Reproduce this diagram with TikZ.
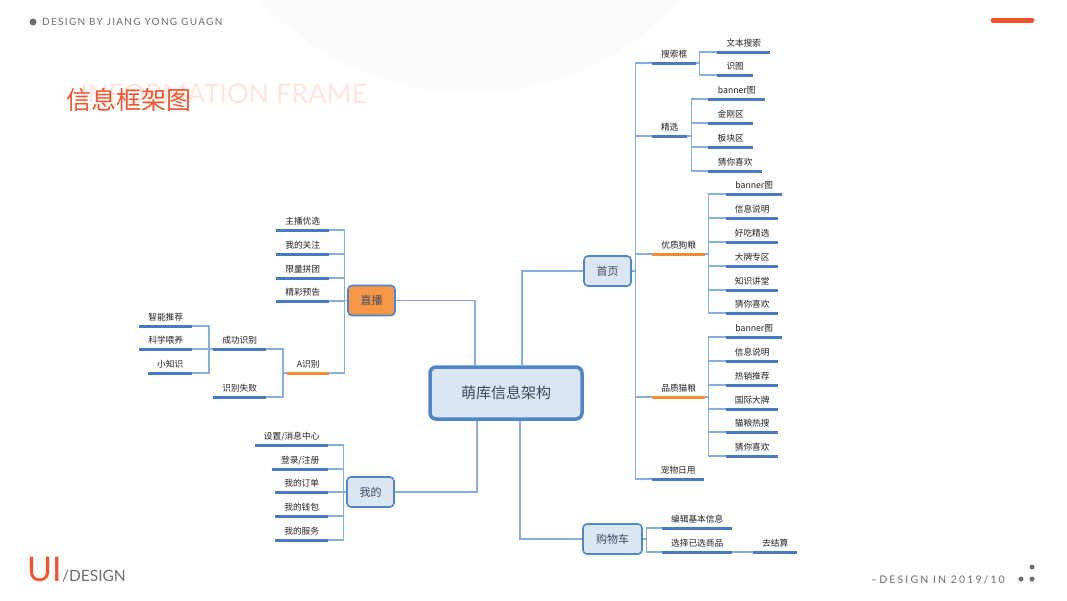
\documentclass[tikz,border=0pt]{standalone}
\usepackage{fontspec}
\usepackage{xcolor}
\usepackage{tikz}
\usetikzlibrary{positioning, calc}

\newfontfamily\cjk{Noto Sans CJK SC}
\newfontfamily\latin{Lato}

\definecolor{boxblue}{HTML}{4F86C6}
\definecolor{boxfill}{HTML}{DCE6F2}
\definecolor{lineblue}{HTML}{4779C4}
\definecolor{linkblue}{HTML}{86AEE3}
\definecolor{orangeline}{HTML}{F08C3C}
\definecolor{orangefill}{HTML}{F79646}
\definecolor{accent}{HTML}{F5532D}
\definecolor{softgrey}{HTML}{6E6E6E}
\definecolor{faintpink}{HTML}{FDE6DE}
\definecolor{haze}{HTML}{FDFAFA}
\definecolor{textdark}{HTML}{222222}
\definecolor{textblue}{HTML}{3B4A63}

\begin{document}
\begin{tikzpicture}[
    x=1pt, y=-1pt,
    root/.style={
        rectangle, rounded corners=6pt, draw=boxblue, line width=3.5pt,
        fill=boxfill, minimum width=152pt, minimum height=52pt,
        font=\cjk\fontsize{15}{18}\selectfont, text=textblue
    },
    branch/.style={
        rectangle, rounded corners=4pt, draw=boxblue, line width=1.6pt,
        fill=boxfill, minimum width=#1, minimum height=30pt, inner xsep=0pt,
        font=\cjk\fontsize{11}{13}\selectfont, text=textblue
    },
    branch/.default=47pt,
    leaf/.style={
        anchor=south west, inner sep=0pt, minimum width=#1,
        text height=8pt, text depth=5.8pt,
        font=\cjk\fontsize{8.7}{10}\selectfont, text=textdark
    },
    uline/.style={draw=lineblue, line width=3pt},
    oline/.style={draw=orangeline, line width=3pt},
    topic/.style={leaf=#1,
        append after command={(\tikzlastnode.south west) edge[uline] (\tikzlastnode.south east)}},
    otopic/.style={leaf=#1,
        append after command={(\tikzlastnode.south west) edge[oline] (\tikzlastnode.south east)}},
    link/.style={draw=linkblue, line width=1.2pt}
]

% 0. Page and decoration
\fill[white] (0,0) rectangle (1067,600);
\begin{scope}
    \clip (0,0) rectangle (1067,600);
    \fill[haze] (471,-193) circle (286pt);
\end{scope}
\useasboundingbox (0,0) rectangle (1067,600);

\fill[softgrey] (33,22) circle (3.5pt);
\node[anchor=west, inner sep=0pt, text=softgrey,
      font=\latin\fontsize{10}{11}\selectfont\addfontfeature{LetterSpace=13}]
      (byline) at (42,22) {DESIGN BY JIANG YONG GUAGN};
\draw[accent, line width=5pt, line cap=round] (993,20) -- (1032,20);

\node[anchor=base west, inner sep=0pt, text=faintpink,
      font=\latin\fontsize{27}{30}\selectfont] (enword) at (80,103) {INFORMATION FRAME};
\node[anchor=west, inner sep=0pt, text=accent,
      font=\cjk\fontsize{25}{28}\selectfont] (title) at (66,100) {信息框架图};

\node[anchor=base west, inner sep=0pt, text=accent,
      font=\latin\fontsize{34}{36}\selectfont] (ui) at (27,581) {UI};
\node[anchor=base west, inner sep=0pt, text=softgrey,
      font=\latin\fontsize{15.5}{18}\selectfont] (design) at (ui.base east) {/DESIGN};

\node[anchor=base west, inner sep=0pt, text=softgrey,
      font=\latin\fontsize{10.5}{12}\selectfont\addfontfeature{LetterSpace=20}]
      (dated) at (871,583) {–DESIGN IN 2019/10};
\fill[softgrey] (1021,579) circle (2.5pt) (1032,579) circle (2.5pt) (1032,567) circle (2.5pt);

% 1. Root and main branches
\node[root] (root) at (506,393) {萌库信息架构};
\node[branch] (shouye) at (607.5,271) {首页};
\node[branch, fill=orangefill] (zhibo) at (371.5,300.5) {直播};
\node[branch] (wode) at (370.5,492) {我的};
\node[branch=59pt] (gouwu) at (612.5,539) {购物车};

\draw[link] ([xshift=16pt]root.north) |- (shouye.west);
\draw[link] ([xshift=-31pt]root.north) |- (zhibo.east);
\draw[link] ([xshift=-29pt]root.south) |- (wode.east);
\draw[link] ([xshift=14pt]root.south) |- (gouwu.west);

% 2. Left side: live and identification
\node[topic=53pt] (zb1) at (276,230) {主播优选};
\node[topic=53pt] (zb2) at (276,254) {我的关注};
\node[topic=53pt] (zb3) at (276,278) {限量拼团};
\node[topic=53pt] (zb4) at (276,301) {精彩预告};
\node[otopic=42pt] (zb5) at (287,373) {A识别};

\node[topic=53pt] (sb1) at (213,349) {成功识别};
\node[topic=53pt] (sb2) at (213,397) {识别失败};

\node[topic=53pt] (cg1) at (139,326) {智能推荐};
\node[topic=53pt] (cg2) at (139,349) {科学喂养};
\node[topic=44pt] (cg3) at (148,373) {小知识};

\foreach \c in {zb1,zb2,zb3,zb4,zb5}
    \draw[link] (zhibo.west) -- ++(-3,0) |- (\c.south east);
\foreach \c in {sb1,sb2}
    \draw[link] (zb5.south west) -- ++(-4,0) |- (\c.south east);
\foreach \c in {cg1,cg2,cg3}
    \draw[link] (sb1.south west) -- ++(-4,0) |- (\c.south east);

% 3. Left side: my page
\node[topic=73pt] (wd1) at (255,445) {设置/消息中心};
\node[topic=56pt] (wd2) at (272,469) {登录/注册};
\node[topic=53pt] (wd3) at (275,492) {我的订单};
\node[topic=53pt] (wd4) at (275,516) {我的钱包};
\node[topic=53pt] (wd5) at (275,540) {我的服务};

\foreach \c in {wd1,wd2,wd3,wd4,wd5}
    \draw[link] (wode.west) -- ++(-3,0) |- (\c.south east);

% 4. Right side: home page
\node[topic=44pt] (sy1) at (652,63) {搜索框};
\node[topic=35pt] (sy2) at (652,136) {精选};
\node[otopic=53pt] (sy3) at (652,254) {优质狗粮};
\node[otopic=53pt] (sy4) at (652,397) {品质猫粮};
\node[topic=52pt] (sy5) at (652,479) {宠物日用};

\node[topic=53pt] (ss1) at (717,52) {文本搜索};
\node[topic=36pt] (ss2) at (717,75) {识图};

\node[topic=57pt] (jx1) at (708,99) {banner图};
\node[topic=45pt] (jx2) at (708,123) {金刚区};
\node[topic=45pt] (jx3) at (708,147) {板块区};
\node[topic=54pt] (jx4) at (708,171) {猜你喜欢};

\node[topic=56pt] (gl1) at (726,194) {banner图};
\node[topic=52pt] (gl2) at (726,218) {信息说明};
\node[topic=52pt] (gl3) at (726,242) {好吃精选};
\node[topic=52pt] (gl4) at (726,266) {大牌专区};
\node[topic=52pt] (gl5) at (726,290) {知识讲堂};
\node[topic=52pt] (gl6) at (726,313) {猜你喜欢};

\node[topic=56pt] (ml1) at (726,337) {banner图};
\node[topic=52pt] (ml2) at (726,361) {信息说明};
\node[topic=52pt] (ml3) at (726,385) {热销推荐};
\node[topic=52pt] (ml4) at (726,409) {国际大牌};
\node[topic=52pt] (ml5) at (726,432) {猫粮热搜};
\node[topic=52pt] (ml6) at (726,456) {猜你喜欢};

\foreach \c in {sy1,sy2,sy3,sy4,sy5}
    \draw[link] (shouye.east) -- ++(4,0) |- (\c.south west);
\foreach \c in {ss1,ss2}
    \draw[link] (sy1.south east) -- ++(3,0) |- (\c.south west);
\foreach \c in {jx1,jx2,jx3,jx4}
    \draw[link] (sy2.south east) -- ++(4,0) |- (\c.south west);
\foreach \c in {gl1,gl2,gl3,gl4,gl5,gl6}
    \draw[link] (sy3.south east) -- ++(3,0) |- (\c.south west);
\foreach \c in {ml1,ml2,ml3,ml4,ml5,ml6}
    \draw[link] (sy4.south east) -- ++(3,0) |- (\c.south west);

% 5. Right side: cart
\node[topic=70pt] (gw1) at (662,528) {编辑基本信息};
\node[topic=70pt] (gw2) at (662,552) {选择已选商品};
\node[topic=44pt] (gw3) at (753,552) {去结算};

\foreach \c in {gw1,gw2}
    \draw[link] (gouwu.east) -- ++(4,0) |- (\c.south west);
\draw[link] (gw2.south east) -- (gw3.south west);

\end{tikzpicture}
\end{document}
